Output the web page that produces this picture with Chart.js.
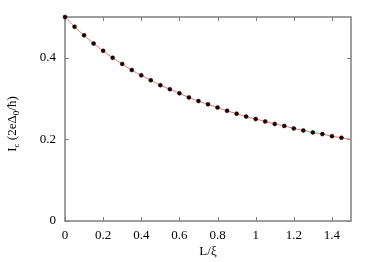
<!DOCTYPE html>
<html>
<head>
<meta charset="utf-8">
<script src="https://cdn.jsdelivr.net/npm/chart.js@4"></script>
<style>
  html, body { margin: 0; padding: 0; background: #fff; }
  #wrap { width: 374px; height: 262px; }
</style>
</head>
<body>
<div id="wrap"><canvas id="icChart" width="374" height="262"></canvas></div>
<script>
// values
const lengths = [0, 0.05, 0.1, 0.15, 0.2, 0.25, 0.3, 0.35, 0.4, 0.45, 0.5, 0.55, 0.6, 0.65, 0.7,
  0.75, 0.8, 0.85, 0.9, 0.95, 1.0, 1.05, 1.1, 1.15, 1.2, 1.25, 1.3, 1.35, 1.4, 1.45];
const currents = [0.5, 0.476, 0.455, 0.435, 0.417, 0.4, 0.385, 0.37, 0.357, 0.345, 0.333, 0.323, 0.313, 0.303, 0.294,
  0.286, 0.278, 0.27, 0.263, 0.256, 0.25, 0.244, 0.238, 0.233, 0.227, 0.222, 0.217, 0.213, 0.208, 0.204];
const fitLengths = lengths.concat([1.5]);
const fitCurrents = currents.concat([0.2]);
const xTicks = [0, 0.2, 0.4, 0.6, 0.8, 1, 1.2, 1.4];
const yTicks = [0, 0.2, 0.4];

const FONT = '"Times New Roman", "Liberation Serif", serif';
const borderColor = '#7f7f7f';

// gnuplot-like frame: border plus inward ticks on all four sides
const framePlugin = {
  id: 'frame',
  beforeDatasetsDraw(chart) {
    const { ctx, chartArea: a, scales } = chart;
    ctx.save();
    ctx.strokeStyle = borderColor;
    ctx.lineWidth = 1;
    const t = 4;
    xTicks.forEach(v => {
      const px = Math.round(scales.x.getPixelForValue(v)) + 0.5;
      ctx.beginPath();
      ctx.moveTo(px, a.bottom); ctx.lineTo(px, a.bottom - t);
      ctx.moveTo(px, a.top); ctx.lineTo(px, a.top + t);
      ctx.stroke();
    });
    yTicks.forEach(v => {
      const py = Math.round(scales.y.getPixelForValue(v)) + 0.5;
      ctx.beginPath();
      ctx.moveTo(a.left, py); ctx.lineTo(a.left + t, py);
      ctx.moveTo(a.right, py); ctx.lineTo(a.right - t, py);
      ctx.stroke();
    });
    ctx.lineWidth = 1.5;
    ctx.strokeRect(a.left, a.top, a.right - a.left, a.bottom - a.top);
    ctx.restore();
  },
  afterDraw(chart) {
    const { ctx, chartArea: a } = chart;
    ctx.save();
    ctx.fillStyle = '#000';
    // x title
    ctx.font = '13px ' + FONT;
    ctx.textAlign = 'center';
    ctx.textBaseline = 'middle';
    ctx.fillText('L/ξ', (a.left + a.right) / 2, 252);
    // y title with subscripts: I_c (2eΔ_0/ħ)
    const parts = [
      ['I', false], ['c', true], [' (2eΔ', false], ['0', true], ['/ħ)', false]
    ];
    const big = '13px ' + FONT, small = '9px ' + FONT;
    let w = 0;
    parts.forEach(([s, sub]) => { ctx.font = sub ? small : big; w += ctx.measureText(s).width; });
    ctx.translate(16, (a.top + a.bottom) / 2 + 5);
    ctx.rotate(-Math.PI / 2);
    ctx.textAlign = 'left';
    ctx.textBaseline = 'alphabetic';
    let x = -w / 2;
    parts.forEach(([s, sub]) => {
      ctx.font = sub ? small : big;
      ctx.fillText(s, x, sub ? 3 : 0);
      x += ctx.measureText(s).width;
    });
    ctx.restore();
  }
};

new Chart(document.getElementById('icChart'), {
  type: 'scatter',
  data: {
    datasets: [{
      label: 'fit',
      data: fitLengths.map((l, i) => ({ x: l, y: fitCurrents[i] })),
      showLine: true,
      borderColor: '#f07070',
      borderWidth: 1,
      pointRadius: 0,
      tension: 0.4,
      clip: false,
      order: 2
    }, {
      label: 'data',
      data: lengths.map((l, i) => ({ x: l, y: currents[i] })),
      showLine: false,
      pointRadius: 2,
      pointBackgroundColor: '#1a0000',
      pointBorderColor: '#1a0000',
      pointBorderWidth: 0.5,
      clip: false,
      order: 1
    }]
  },
  options: {
    responsive: false,
    animation: false,
    layout: { padding: { left: 0, right: 23, top: 17, bottom: 0 } },
    plugins: { legend: { display: false }, tooltip: { enabled: false } },
    scales: {
      x: {
        type: 'linear',
        min: 0, max: 1.5,
        afterFit(s) { s.height = 41; },
        afterBuildTicks(s) { s.ticks = xTicks.map(v => ({ value: v })); },
        grid: { display: false, drawTicks: false },
        border: { display: false },
        ticks: {
          padding: 7,
          color: '#000',
          font: { family: FONT, size: 13 },
          callback: v => String(Math.round(v * 10) / 10)
        }
      },
      y: {
        type: 'linear',
        min: 0, max: 0.5,
        afterFit(s) { s.width = 65; },
        afterBuildTicks(s) { s.ticks = yTicks.map(v => ({ value: v })); },
        grid: { display: false, drawTicks: false },
        border: { display: false },
        ticks: {
          padding: 9,
          color: '#000',
          font: { family: FONT, size: 13 },
          callback: v => String(Math.round(v * 10) / 10)
        }
      }
    }
  },
  plugins: [framePlugin]
});
</script>
</body>
</html>
